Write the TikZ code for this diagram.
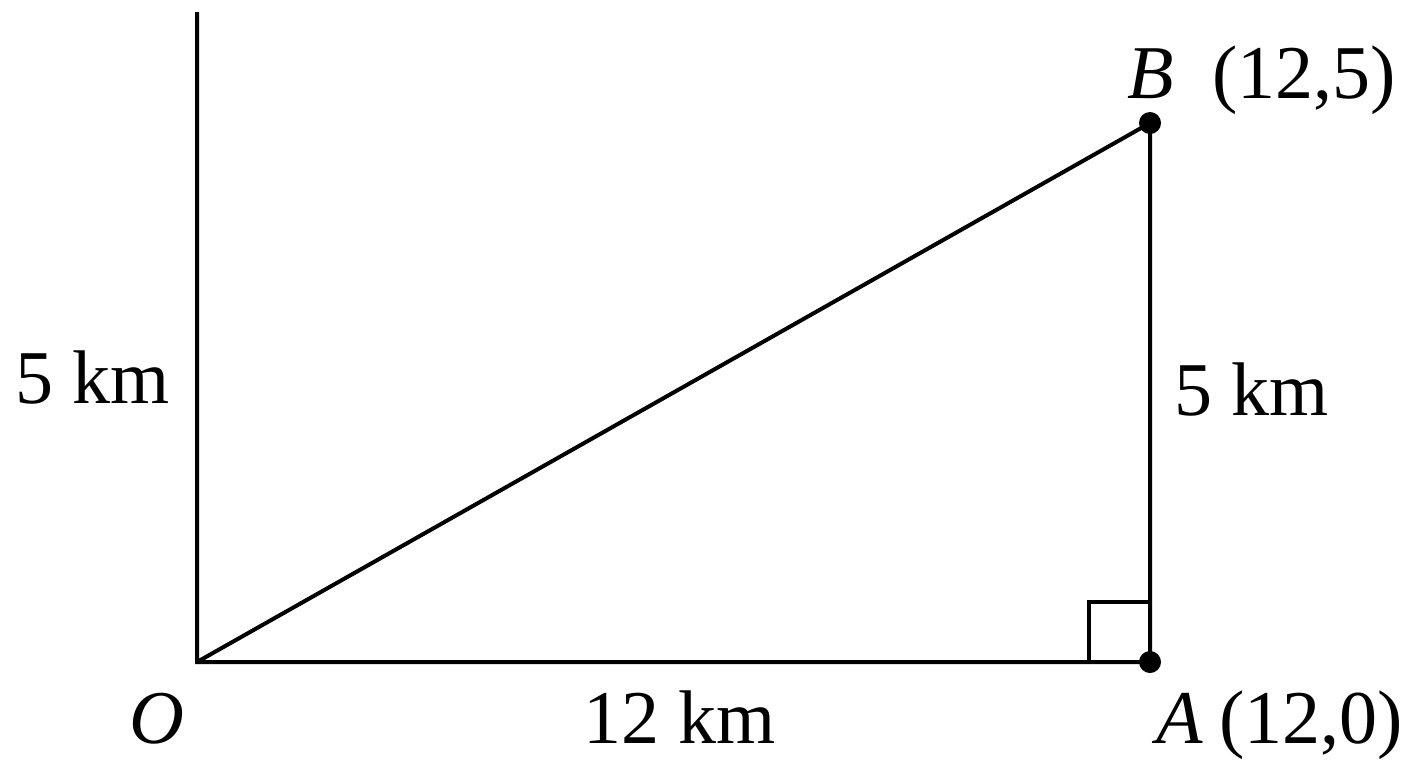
\documentclass[tikz,border=0pt]{standalone}
\usepackage{fontspec}
\setmainfont{Liberation Serif}
\begin{document}
\begin{tikzpicture}[x=0.5pt,y=-0.5pt,
  ln/.style={line width=2pt},
  dot/.style={circle,fill=black,inner sep=0pt,minimum size=11pt},
  lbl/.style={font=\fontsize{38}{44}\selectfont,anchor=base,inner sep=0pt}]
\useasboundingbox (0,0) rectangle (1408,768);
\coordinate (O) at (197,662);
\coordinate (A) at (1150,662);
\coordinate (B) at (1150,123);
\coordinate (T) at (197,12);
\coordinate (R1) at (1089,662);
\coordinate (R2) at (1089,602);
\coordinate (R3) at (1150,602);
\draw[ln] (T) -- (O) -- (A) -- (B) -- (O);
\draw[ln] (R1) -- (R2) -- (R3);
\node[dot] (Ad) at (A) {};
\node[dot] (Bd) at (B) {};
\node[lbl] (l1) at (93,403) {5 km};
\node[lbl] (l2) at (1252,415) {5 km};
\node[lbl] (l3) at (680,743) {12 km};
\node[lbl] (lO) at (157,743) {\textit{O}};
\node[lbl] (lA) at (1280,743) {\textit{A}\kern8pt(12,0)};
\node[lbl] (lB) at (1262,98) {\textit{B}\ \ (12,5)};
\end{tikzpicture}
\end{document}
